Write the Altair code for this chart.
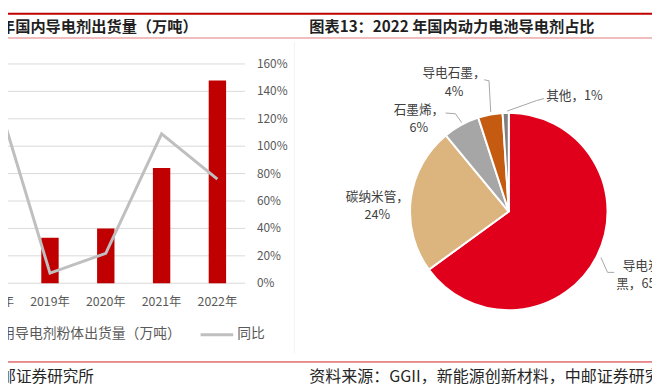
import altair as alt
import pandas as pd

FONT = "Noto Sans CJK SC"

# ---------------- data ----------------
years = ["2018年", "2019年", "2020年", "2021年", "2022年"]
shipments = [1.56, 1.66, 2.00, 4.20, 7.40]          # 万吨 (left axis is cut off)
yoy = [1.425, 0.074, 0.218, 1.09, 0.76]             # 同比
pct_ticks = [0.0, 0.2, 0.4, 0.6, 0.8, 1.0, 1.2, 1.4, 1.6]
pct_labels = ["0%", "20%", "40%", "60%", "80%", "100%", "120%", "140%", "160%"]

pie_cats = ["导电炭黑", "碳纳米管", "石墨烯", "导电石墨", "其他"]
pie_vals = [65, 24, 6, 4, 1]

# ---------------- styles / layout ----------------
pie_colors = ["#E0001B", "#DBB47E", "#A6A6A6", "#C55A11", "#7F7F7F"]
BAR_RED = "#C00000"
LINE_GRAY = "#BFBFBF"
GRID = "#D9D9D9"
TXT = "#595959"

OX, OY = 8, 8          # page margin
W, H = 652, 380


def px(x):
    return x - OX


def py(y):
    return y - OY


# left chart geometry (picture coords)
X_RANGE = [px(-34.25), px(248.25)]
Y_RANGE = [py(284.3), py(62.3)]
pct_scale = alt.Scale(domain=[0, 1.6], range=Y_RANGE, zero=True, nice=False)
qty_scale = alt.Scale(domain=[0, 8], range=Y_RANGE, zero=True, nice=False)
band_scale = alt.Scale(type="band", domain=years, range=X_RANGE,
                       paddingInner=0.6885, paddingOuter=0.34425)
point_scale = alt.Scale(type="point", domain=years, range=X_RANGE, padding=0.5)

# pie geometry
PIE_CX, PIE_CY, PIE_R = 515, 211.7, 100
label_wrap = {"导电炭黑": 3, "碳纳米管": 5, "石墨烯": 4, "导电石墨": 5, "其他": 99}
label_pos = {"导电炭黑": (649.5, 267, 285), "碳纳米管": (382, 197, 215),
             "石墨烯": (424, 109, 127), "导电石墨": (459.5, 72, 91),
             "其他": (581.5, 95, 113)}
leaders = [
    ((490, 78.3), (495, 79.3)), ((495, 79.3), (496.7, 111)),
    ((451, 112), (461, 112.7)), ((461, 112.7), (467.3, 121.7)),
    ((550.7, 97.3), (543.3, 99.3)), ((543.3, 99.3), (513.3, 110)),
    ((608.3, 258.3), (615, 273.3)), ((615, 273.3), (621.7, 273.3)),
]


def label(text, x, y, size=12, color=TXT, align="center", weight="normal"):
    return alt.Chart(pd.DataFrame({"t": [text]})).mark_text(
        font=FONT, fontSize=size, color=color, align=align,
        baseline="middle", fontWeight=weight
    ).encode(text="t:N", x=alt.value(px(x)), y=alt.value(py(y)))


def hline(x1, x2, y, color, width):
    return alt.Chart(pd.DataFrame({"a": [0]})).mark_rule(
        color=color, strokeWidth=width
    ).encode(x=alt.value(px(x1)), x2=alt.value(px(x2)), y=alt.value(py(y)))


def vline(x, y1, y2, color, width):
    return alt.Chart(pd.DataFrame({"a": [0]})).mark_rule(
        color=color, strokeWidth=width
    ).encode(x=alt.value(px(x)), y=alt.value(py(y1)), y2=alt.value(py(y2)))


layers = []

# frame decorations
layers.append(hline(0, 660, 11.5, "#C00000", 2))
layers.append(hline(0, 660, 36, "#E37A7A", 1))
layers.append(hline(0, 660, 364, "#D02020", 1))
layers.append(vline(298, 40, 355, "#F3F3F3", 1))

# titles and sources
layers.append(label("图表12：2018-2022年国内导电剂出货量（万吨）", 200, 25, 15.4, "#1F1F1F", "right", "bold"))
layers.append(label("图表13：2022 年国内动力电池导电剂占比", 313, 25, 15.4, "#1F1F1F", "left", "bold"))
layers.append(label("资料来源：GGII，中邮证券研究所", 95, 379, 15.8, "#262626", "right"))
layers.append(label("资料来源：GGII，新能源创新材料，中邮证券研究所", 313, 379, 16.2, "#262626", "left"))

# ---------- left chart ----------
grid_df = pd.DataFrame({"v": pct_ticks, "lab": pct_labels})
layers.append(
    alt.Chart(grid_df).mark_rule(color=GRID, strokeWidth=1).encode(
        y=alt.Y("v:Q", scale=pct_scale, axis=None),
        x=alt.value(px(0)), x2=alt.value(px(248)))
)
layers.append(
    alt.Chart(grid_df).mark_text(font=FONT, fontSize=12, color=TXT, align="left", baseline="middle").encode(
        y=alt.Y("v:Q", scale=pct_scale, axis=None),
        x=alt.value(px(260)), text="lab:N")
)

bar_df = pd.DataFrame({"year": years, "qty": shipments, "yoy": yoy})
layers.append(
    alt.Chart(bar_df).mark_bar(color=BAR_RED).encode(
        x=alt.X("year:N", scale=band_scale, axis=None, sort=years),
        y=alt.Y("qty:Q", scale=qty_scale, axis=None))
)
layers.append(
    alt.Chart(bar_df).mark_line(color=LINE_GRAY, strokeWidth=3, strokeJoin="miter").encode(
        x=alt.X("year:N", scale=point_scale, axis=None, sort=years),
        y=alt.Y("yoy:Q", scale=pct_scale, axis=None))
)
layers.append(
    alt.Chart(bar_df).mark_text(font=FONT, fontSize=12.5, color=TXT, baseline="middle").encode(
        x=alt.X("year:N", scale=point_scale, axis=None, sort=years),
        y=alt.value(py(303)), text="year:N")
)

# legend
layers.append(label("动力电池用导电剂粉体出货量（万吨）", 183, 336, 14, TXT, "right"))
layers.append(hline(203, 236, 336.5, LINE_GRAY, 3))
layers.append(label("同比", 240, 336, 14, TXT, "left"))

# ---------- pie ----------
pie_df = pd.DataFrame({"cat": pie_cats, "val": pie_vals, "idx": list(range(len(pie_cats)))})
layers.append(
    alt.Chart(pie_df).mark_arc(radius=PIE_R, stroke="white", strokeWidth=2).encode(
        theta=alt.Theta("val:Q", stack=True),
        color=alt.Color("cat:N", scale=alt.Scale(domain=pie_cats, range=pie_colors), legend=None),
        order=alt.Order("idx:Q", sort="ascending"),
        x=alt.value(px(PIE_CX)), y=alt.value(py(PIE_CY)))
)

# leader lines
lead_df = pd.DataFrame({
    "x": [px(a[0]) for a, b in leaders], "y": [py(a[1]) for a, b in leaders],
    "x2": [px(b[0]) for a, b in leaders], "y2": [py(b[1]) for a, b in leaders],
})
layers.append(
    alt.Chart(lead_df).mark_rule(color="#A6A6A6", strokeWidth=1).encode(
        x=alt.X("x:Q", scale=None), y=alt.Y("y:Q", scale=None),
        x2="x2:Q", y2="y2:Q")
)

# pie labels
for cat, val in zip(pie_cats, pie_vals):
    full = f"{cat}，{val}%"
    k = label_wrap[cat]
    l1, l2 = full[:k], full[k:]
    cx, y1, y2 = label_pos[cat]
    layers.append(label(l1, cx, y1, 12.8, "#404040"))
    if l2:
        layers.append(label(l2, cx, y2, 12.8, "#404040"))

chart = alt.layer(*layers).properties(
    width=W, height=H, padding=0,
    autosize=alt.AutoSizeParams(type="none"),
    background="white",
).resolve_scale(
    x="independent", y="independent", color="independent", theta="independent"
).configure_view(stroke=None)

chart.save("out.html", embed_options={"renderer": "svg", "actions": False})
